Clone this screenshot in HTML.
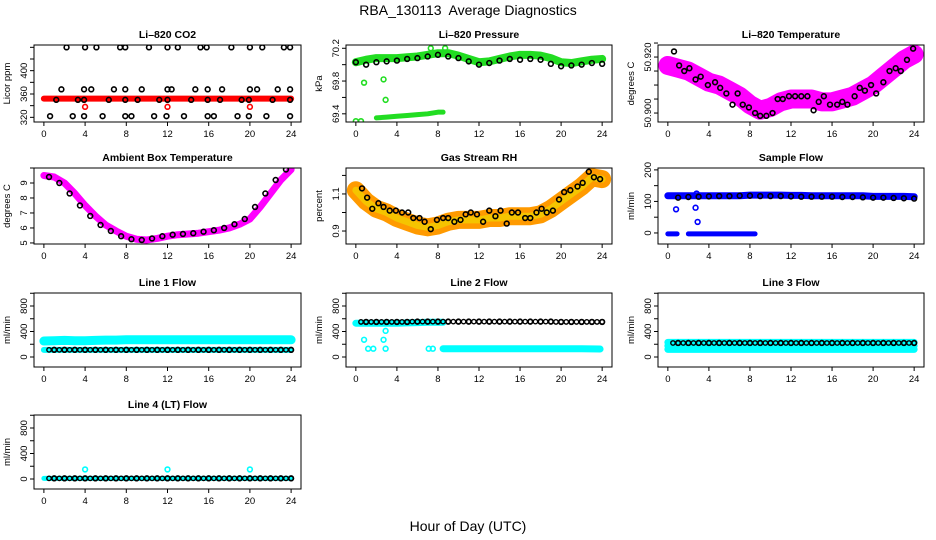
<!DOCTYPE html>
<html><head><meta charset="utf-8"><title>RBA_130113 Average Diagnostics</title>
<style>
html,body{margin:0;padding:0;background:#fff;}
svg{display:block;font-family:"Liberation Sans",sans-serif;}
</style></head>
<body>
<svg id="chart" width="936" height="540" viewBox="0 0 936 540" xmlns="http://www.w3.org/2000/svg">
<text x="468" y="15" text-anchor="middle" font-size="14">RBA_130113&#160; Average Diagnostics</text>
<text x="468" y="531" text-anchor="middle" font-size="14">Hour of Day (UTC)</text>
</svg>
<script>
// ---- data ----
const hours = [0,1,2,3,4,5,6,7,8,9,10,11,12,13,14,15,16,17,18,19,20,21,22,23,24];
const halfHours = [0.5,1,1.5,2,2.5,3,3.5,4,4.5,5,5.5,6,6.5,7,7.5,8,8.5,9,9.5,10,10.5,11,11.5,12,12.5,13,13.5,14,14.5,15,15.5,16,16.5,17,17.5,18,18.5,19,19.5,20,20.5,21,21.5,22,22.5,23,23.5,24];
const xTicks = [0,4,8,12,16,20,24];

// CO2
const co2Band = [352,352,352,352,352,352,352,352,352,352,352,352,352,352,352,352,352,352,352,352,352,352,352,352,352];
const co2HighX = [2.2,4,5.1,7.4,7.9,10.2,12,13,15.2,15.8,18.2,20,21.2,23.3,23.9];
const co2HighY = [440,440,440,440,440,440,440,440,440,440,440,440,440,440,440];
const co2MidX = [1.7,3.9,4.6,6.8,7.9,9.5,12,12.4,14.7,15.9,17.3,20,20.7,22.7,23.9];
const co2MidY = [368,368,368,368,368,368,368,368,368,368,368,368,368,368,368];
const co2LowX = [1.2,3.3,3.9,6.3,7.9,9.1,11.2,12,14.3,15.9,17.1,19.2,19.9,22.2,23.9];
const co2LowY = [350,350,350,350,350,350,350,350,350,350,350,350,350,350,350];
const co2BotX = [0.6,2.8,3.9,5.7,7.9,8.5,10.7,11.9,13.6,15.9,16.5,18.8,19.9,21.6,23.9];
const co2BotY = [322,322,322,322,322,322,322,322,322,322,322,322,322,322,322];
const co2RedX = [4,12,20];
const co2RedY = [338,338,338];

// Pressure
const presBand = [70.03,70.06,70.08,70.08,70.08,70.09,70.10,70.12,70.14,70.14,70.11,70.07,70.03,70.04,70.07,70.10,70.12,70.12,70.11,70.08,70.03,70.02,70.04,70.06,70.07];
const presBlack = [70.03,70.00,70.03,70.04,70.05,70.07,70.08,70.10,70.12,70.10,70.08,70.04,70.00,70.02,70.05,70.07,70.06,70.07,70.06,70.01,69.98,69.99,70.00,70.02,70.01];
const presLowX = [2,3,4,5,6,7,8,8.5];
const presLowY = [69.35,69.36,69.37,69.38,69.39,69.40,69.42,69.42];
const presOutX = [0,0.5,0.8,2.7,2.9,7.3,8.7];
const presOutY = [69.31,69.31,69.78,69.82,69.57,70.20,70.20];

// Li-820 temperature
const tempBand = [50.917,50.916,50.915,50.913,50.911,50.910,50.908,50.906,50.903,50.901,50.902,50.904,50.905,50.905,50.905,50.904,50.904,50.905,50.906,50.908,50.910,50.913,50.916,50.919,50.921];
const tempBlackX = [0.6,1.1,1.6,2.1,2.7,3.2,3.9,4.6,5.1,5.7,6.3,6.8,7.3,7.9,8.5,9.0,9.6,10.2,10.7,11.2,11.8,12.4,13.0,13.6,14.2,14.7,15.2,15.8,16.5,17.0,17.5,18.2,18.7,19.2,19.8,20.3,21.0,21.6,22.2,22.7,23.3,23.9];
const tempBlackY = [50.922,50.917,50.915,50.916,50.912,50.913,50.910,50.911,50.909,50.907,50.903,50.907,50.903,50.902,50.900,50.899,50.899,50.900,50.905,50.905,50.906,50.906,50.906,50.906,50.901,50.904,50.906,50.903,50.903,50.904,50.903,50.906,50.909,50.908,50.910,50.907,50.911,50.915,50.916,50.915,50.919,50.923];

// Ambient box temperature
const ambBand = [9.5,9.4,9.0,8.3,7.5,6.8,6.2,5.8,5.45,5.25,5.2,5.3,5.45,5.55,5.6,5.65,5.75,5.85,6.0,6.25,6.6,7.4,8.3,9.2,9.9];

// Gas stream RH
const rhBand = [1.12,1.06,1.02,1.0,0.97,0.95,0.93,0.92,0.93,0.95,0.96,0.96,0.96,0.97,0.97,0.98,0.98,0.98,0.99,1.02,1.06,1.10,1.14,1.19,1.18];
const rhBlackX = [0.6,1.1,1.6,2.2,2.7,3.3,3.9,4.5,5.1,5.6,6.2,6.7,7.3,7.9,8.5,9.0,9.6,10.2,10.7,11.2,11.8,12.4,13.0,13.6,14.1,14.7,15.2,15.8,16.5,17.0,17.6,18.1,18.6,19.2,19.8,20.3,20.9,21.6,22.1,22.7,23.2,23.8];
const rhBlackY = [1.13,1.08,1.02,1.05,1.03,1.01,1.01,1.00,1.00,0.97,0.97,0.95,0.91,0.96,0.97,0.97,0.95,0.96,0.99,1.00,0.99,0.95,1.01,0.98,1.01,0.94,1.00,1.00,0.97,0.97,1.00,1.02,1.00,1.01,1.07,1.11,1.12,1.14,1.16,1.22,1.19,1.18];

// Sample flow
const sfBand = [118,118,118,118,118,118,118,118,120,120,120,120,119,119,118,118,118,118,118,118,116,116,116,116,115];
const sfBlack = [113,112,114,115,116,117,117,118,118,117,117,117,116,115,115,115,115,114,114,113,112,112,111,110,109];
const sfZeroX = [0,0.9,2,3,4,5,6,7,8,8.5];
const sfZeroY = [-3,-3,-3,-3,-3,-3,-3,-3,-3,-3];
const sfOutX = [0.8,2.7,2.8,2.9];
const sfOutY = [75,80,125,35];

// Line flows
const l1Cyan = [250,255,260,255,255,260,265,265,270,270,270,270,270,270,270,270,270,270,270,270,270,270,270,270,270];
const l1Black = [112,112,112,112,112,112,112,112,112,112,112,112,112,112,112,112,112,112,112,112,112,112,112,112,112];
const l2CyanHigh = [530,530,530,530,530,535,540,545,545];
const l2CyanHighX = [0,1,2,3,4,5,6,7,8.5];
const l2Black = [550,550,550,550,550,550,555,555,555,555,555,555,555,555,555,555,555,555,555,555,550,550,550,550,550];
const l2CyanLowX = [8.5,10,12,14,16,18,20,22,23.8];
const l2CyanLow = [130,130,130,130,130,130,130,130,125];
const l2OutX = [0.8,1.2,1.7,2.7,2.9,2.9,7.1,7.5];
const l2OutY = [270,130,130,270,410,130,130,130];
const l3CyanA = [120,120,120,120,120,120,120,120,120,120,120,120,120,120,120,120,120,120,120,120,120,120,120,120,120];
const l3CyanB = [230,230,230,230,230,230,230,230,230,230,230,230,230,230,230,230,230,230,230,230,230,230,230,230,230];
const l3Black = [220,220,220,220,220,220,220,220,220,220,220,220,220,220,220,220,220,220,220,220,220,220,220,220,220];
const l4Black = [10,10,10,10,10,10,10,10,10,10,10,10,10,10,10,10,10,10,10,10,10,10,10,10,10];
const l4OutX = [4,12,20];
const l4OutY = [150,150,150];

// ---- drawing ----
const NS = "http://www.w3.org/2000/svg";
const svg = document.getElementById('chart');
const colsX = [[34,301],[346,612],[658,924]];
const rowsY = [[45,122],[168,244],[293,367],[415,489]];

function mk(tag, attrs, parent){
  const e = document.createElementNS(NS, tag);
  for (const k in attrs) e.setAttribute(k, attrs[k]);
  (parent||svg).appendChild(e);
  return e;
}

function makePanel(col,row,name,title,ylab,ymin,ymax,yTicks,yLabels){
  const [x0,x1] = colsX[col], [y0,y1] = rowsY[row];
  const g = mk('g',{});
  
  
  const sx = v => x0 + (v + 0.96) / 25.92 * (x1 - x0);
  const sy = v => y1 - (v - ymin) / (ymax - ymin) * (y1 - y0);
  const t = mk('text',{x:(x0+x1)/2,y:y0-7,'text-anchor':'middle','font-size':10.5,'font-weight':'bold'},g);
  t.textContent = title;
  
  
  const yl = mk('text',{x:0,y:0,'text-anchor':'middle','font-size':9.5,transform:`translate(${x0-24},${(y0+y1)/2}) rotate(-90)`},g);
  yl.textContent = ylab;
  
  
  const ax = mk('g',{stroke:'#000','stroke-width':1},g);
  
  
  xTicks.forEach(v=>{
    const x = sx(v);
    mk('line',{x1:x,x2:x,y1:y1,y2:y1+4},ax);
    const tl = mk('text',{x:x,y:y1+15,'text-anchor':'middle','font-size':9.5,stroke:'none',fill:'#000'},g);
    tl.textContent = v;
    
    
  });
  yTicks.forEach(v=>{
    const y = sy(v);
    mk('line',{x1:x0-4,x2:x0,y1:y,y2:y},ax);
  });
  yLabels.forEach(v=>{
    const y = sy(v);
    const tl = mk('text',{x:0,y:0,'text-anchor':'middle','font-size':9.5,transform:`translate(${x0-7},${y}) rotate(-90)`},g);
    tl.textContent = v;
    
    
  });
  const clip = 'clip-' + name;
  const cp = mk('clipPath',{id:clip},g);
  mk('rect',{x:x0,y:y0,width:x1-x0,height:y1-y0},cp);
  const plot = mk('g',{'clip-path':`url(#${clip})`},g);
  mk('rect',{x:x0,y:y0,width:x1-x0,height:y1-y0,fill:'none',stroke:'#000','stroke-width':1},g);
  return {g:plot,sx,sy,name};
}

function band(p, xs, ys, color, w, label){
  const pts = xs.map((x,i)=>p.sx(x)+','+p.sy(ys[i])).join(' ');
  const e = mk('polyline',{points:pts,fill:'none',stroke:color,'stroke-width':w,'stroke-linecap':'round','stroke-linejoin':'round'},p.g);
  
  
}
function pts(p, xs, ys, color, label, r, sw){
  const gg = mk('g',{fill:'none',stroke:color,'stroke-width':sw||1.6},p.g);
  
  
  xs.forEach((x,i)=>{
    const c = mk('circle',{cx:p.sx(x),cy:p.sy(ys[i]),r:r||2.4},gg);
    
    
  });
}

// Panel 1: CO2
let p = makePanel(0,0,'co2','Li\u2013820 CO2','Licor ppm',312,444,[320,340,360,380,400,420,440],[320,360,400]);
band(p,hours,co2Band,'#ff0000',6,'red-band');
pts(p,co2HighX,co2HighY,'#000','black-high');
pts(p,co2MidX,co2MidY,'#000','black-mid');
pts(p,co2LowX,co2LowY,'#000','black-low');
pts(p,co2BotX,co2BotY,'#000','black-bottom');
pts(p,co2RedX,co2RedY,'#ff0000','red-points');

// Panel 2: Pressure
p = makePanel(1,0,'pressure','Li\u2013820 Pressure','kPa',69.30,70.24,[69.4,69.6,69.8,70.0,70.2],[69.4,69.8,70.2]);
band(p,hours,presBand,'#22dd22',8,'green-band');
band(p,presLowX,presLowY,'#22dd22',5,'green-low-band');
pts(p,presOutX,presOutY,'#22dd22','green-outliers');
pts(p,hours,presBlack,'#000','black-points');

// Panel 3: Li-820 temperature
p = makePanel(2,0,'li820-temperature','Li\u2013820 Temperature','degrees C',50.8968,50.9243,[50.900,50.905,50.910,50.915,50.920,50.925],['50.900','50.920']);
band(p,hours,tempBand,'#ff00ff',19,'magenta-band');
pts(p,tempBlackX,tempBlackY,'#000','black-points');

// Panel 4: Ambient
p = makePanel(0,1,'ambient-temperature','Ambient Box Temperature','degrees C',4.93,10.0,[5,6,7,8,9,10],[5,6,7,8,9]);
band(p,hours,ambBand,'#ff00ff',7,'magenta-band');
pts(p,halfHours.filter((h,i)=>i%2===0),ambBand.slice(1),'#000','black-points');

// Panel 5: RH
p = makePanel(1,1,'gas-stream-rh','Gas Stream RH','percent',0.83,1.24,[0.9,1.0,1.1,1.2],[0.9,1.1]);
band(p,hours,rhBand,'#ff9a00',18,'orange-band');
band(p,hours,rhBand,'#f5c400',7,'yellow-band');
pts(p,rhBlackX,rhBlackY,'#000','black-points');

// Panel 6: Sample flow
p = makePanel(2,1,'sample-flow','Sample Flow','ml/min',-35,206,[0,50,100,150,200],[0,100,200]);
band(p,hours,sfBand,'#0000ff',7,'blue-band');
band(p,sfZeroX.slice(0,2),sfZeroY.slice(0,2),'#0000ff',5,'blue-zero-a');
band(p,sfZeroX.slice(2),sfZeroY.slice(2),'#0000ff',5,'blue-zero-b');
pts(p,sfOutX,sfOutY,'#0000ff','blue-outliers');
pts(p,hours.slice(1),sfBlack.slice(1),'#000','black-points');

// Panel 7: Line 1
p = makePanel(0,2,'line1-flow','Line 1 Flow','ml/min',-157,1004,[0,200,400,600,800,1000],[0,400,800]);
band(p,hours,l1Cyan,'#00ffff',9,'cyan-band');
band(p,hours,l1Black,'#00ffff',6,'cyan-low-band');
pts(p,hours.slice(1),l1Black.slice(1),'#000','black-points');
pts(p,halfHours,halfHours.map((h,i)=>l1Black[0]),'#000','black-half-points',2.2,1.4);

// Panel 8: Line 2
p = makePanel(1,2,'line2-flow','Line 2 Flow','ml/min',-157,1004,[0,200,400,600,800,1000],[0,400,800]);
band(p,l2CyanHighX,l2CyanHigh,'#00ffff',7,'cyan-high-band');
band(p,l2CyanLowX,l2CyanLow,'#00ffff',7,'cyan-low-band');
pts(p,l2OutX,l2OutY,'#00ffff','cyan-outliers');
pts(p,hours.slice(1),l2Black.slice(1),'#000','black-points');
pts(p,halfHours,halfHours.map((h,i)=>l2Black[Math.round(h)]),'#000','black-half-points',2.2,1.4);

// Panel 9: Line 3
p = makePanel(2,2,'line3-flow','Line 3 Flow','ml/min',-157,1004,[0,200,400,600,800,1000],[0,400,800]);
band(p,hours,l3CyanA,'#00ffff',7,'cyan-band-low');
band(p,hours,l3CyanB,'#00ffff',7,'cyan-band-high');
band(p,hours,l3Black.map((v,i)=>(l3CyanA[i]+l3CyanB[i])/2),'#00ffff',7,'cyan-band-mid');
pts(p,hours.slice(1),l3Black.slice(1),'#000','black-points');
pts(p,halfHours,halfHours.map((h,i)=>l3Black[Math.round(h)]),'#000','black-half-points',2.2,1.4);

// Panel 10: Line 4
p = makePanel(0,3,'line4-flow','Line 4 (LT) Flow','ml/min',-157,1004,[0,200,400,600,800,1000],[0,400,800]);
band(p,hours,l4Black,'#00ffff',5,'cyan-band');
pts(p,l4OutX,l4OutY,'#00ffff','cyan-outliers');
pts(p,hours.slice(1),l4Black.slice(1),'#000','black-points');
pts(p,halfHours,halfHours.map((h,i)=>l4Black[Math.round(h)]),'#000','black-half-points',2.2,1.4);
</script>
</body></html>
